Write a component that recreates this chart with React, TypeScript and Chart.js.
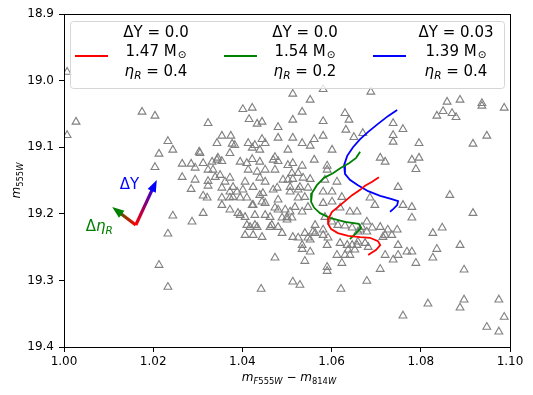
import React, { useEffect, useRef } from 'react';
import { Chart, registerables } from 'chart.js';

Chart.register(...registerables);

// ---- observed stars (colour index, magnitude) ----
const starColor = [
  1.0007, 1.0007, 1.0027, 1.0175, 1.0204, 1.0323, 1.0233, 1.0244, 1.0213, 1.0204,
  1.0303, 1.0354, 1.0374, 1.0401, 1.0422, 1.0415, 1.0433, 1.0444, 1.0480, 1.0513,
  1.0513, 1.0480, 1.0513, 1.0343, 1.0377, 1.0413, 1.0444, 1.0451, 1.0383, 1.0428,
  1.0422, 1.0439, 1.0305, 1.0372, 1.0345, 1.0473, 1.0502, 1.0265, 1.0285, 1.0294,
  1.0312, 1.0332, 1.0265, 1.0294, 1.0323, 1.0334, 1.0354, 1.0350, 1.0395, 1.0422,
  1.0439, 1.0469, 1.0480, 1.0513, 1.0285, 1.0312, 1.0321, 1.0354, 1.0354, 1.0372,
  1.0244, 1.0287, 1.0312, 1.0379, 1.0401, 1.0424, 1.0446, 1.0469, 1.0480, 1.0507,
  1.0395, 1.0406, 1.0424, 1.0444, 1.0462, 1.0480, 1.0500, 1.0233, 1.0406, 1.0424,
  1.0444, 1.0417, 1.0433, 1.0462, 1.0489, 1.0513, 1.0213, 1.0233, 1.0442, 1.0473,
  1.0513, 1.0529, 1.0323, 1.0343, 1.0339, 1.0323, 1.0361, 1.0372, 1.0379, 1.0372,
  1.0372, 1.0388, 1.0395, 1.0410, 1.0406, 1.0410, 1.0413, 1.0433, 1.0451, 1.0439,
  1.0451, 1.0473, 1.0491, 1.0478, 1.0439, 1.0422, 1.0428, 1.0451, 1.0451, 1.0473,
  1.0489, 1.0496, 1.0354, 1.0390, 1.0410, 1.0428, 1.0466, 1.0480, 1.0500, 1.0552,
  1.0581, 1.0688, 1.0534, 1.0581, 1.0630, 1.0639, 1.0632, 1.0670, 1.0650, 1.0534,
  1.0552, 1.0561, 1.0581, 1.0601, 1.0561, 1.0534, 1.0590, 1.0590, 1.0502, 1.0511,
  1.0525, 1.0502, 1.0513, 1.0536, 1.0552, 1.0612, 1.0709, 1.0720, 1.0738, 1.0738,
  1.0738, 1.0760, 1.0507, 1.0529, 1.0547, 1.0796, 1.0859, 1.0888, 1.0937, 1.0937,
  1.0987, 1.0850, 1.0870, 1.0836, 1.0879, 1.0948, 1.0917, 1.0780, 1.0796, 1.0789,
  1.0585, 1.0601, 1.0623, 1.0686, 1.0697, 1.0749, 1.0760, 1.0780, 1.0780, 1.0865,
  1.0917, 1.0679, 1.0709, 1.0726, 1.0747, 1.0827, 1.0848, 1.0641, 1.0657, 1.0664,
  1.0679, 1.0534, 1.0552, 1.0558, 1.0581, 1.0590, 1.0534, 1.0552, 1.0540, 1.0590,
  1.0590, 1.0623, 1.0612, 1.0637, 1.0657, 1.0682, 1.0659, 1.0709, 1.0679, 1.0720,
  1.0738, 1.0749, 1.0769, 1.0780, 1.0789, 1.0749, 1.0715, 1.0621, 1.0760, 1.0816,
  1.0888, 1.0897, 1.0827, 1.0836, 1.0888, 1.0897, 1.0948, 1.0975, 1.0987, 1.0975,
  1.0525, 1.0581, 1.0540, 1.0525, 1.0518, 1.0507, 1.0534, 1.0511, 1.0547, 1.0581,
  1.0601, 1.0619, 1.0585, 1.0601, 1.0614, 1.0630, 1.0646, 1.0668, 1.0691, 1.0563,
  1.0563, 1.0540, 1.0525, 1.0547, 1.0581, 1.0592, 1.0619, 1.0635, 1.0646, 1.0659,
  1.0675, 1.0652, 1.0641, 1.0630, 1.0720, 1.0735,
];
const starMag = [
  18.987, 19.082, 19.062, 19.047, 19.053, 19.064, 19.091, 19.104, 19.110, 19.130,
  19.107, 19.083, 19.083, 19.043, 19.041, 19.058, 19.065, 19.062, 19.070, 19.020,
  19.059, 19.086, 19.086, 19.094, 19.095, 19.094, 19.088, 19.094, 19.097, 19.097,
  19.101, 19.104, 19.109, 19.109, 19.116, 19.115, 19.104, 19.125, 19.125, 19.131,
  19.124, 19.122, 19.145, 19.149, 19.151, 19.134, 19.121, 19.142, 19.122, 19.118,
  19.122, 19.119, 19.121, 19.124, 19.163, 19.173, 19.176, 19.161, 19.187, 19.194,
  19.203, 19.212, 19.199, 19.175, 19.164, 19.160, 19.169, 19.164, 19.179, 19.167,
  19.202, 19.205, 19.187, 19.182, 19.205, 19.194, 19.205, 19.230, 19.232, 19.232,
  19.235, 19.220, 19.220, 19.220, 19.229, 19.235, 19.277, 19.310, 19.313, 19.266,
  19.302, 19.307, 19.134, 19.119, 19.145, 19.158, 19.152, 19.146, 19.160, 19.167,
  19.176, 19.167, 19.176, 19.176, 19.152, 19.124, 19.134, 19.137, 19.134, 19.146,
  19.152, 19.134, 19.149, 19.161, 19.172, 19.187, 19.202, 19.184, 19.202, 19.191,
  19.206, 19.194, 19.176, 19.199, 19.217, 19.217, 19.217, 19.220, 19.209, 19.029,
  19.013, 19.017, 19.047, 19.061, 19.049, 19.059, 19.074, 19.079, 19.085, 19.094,
  19.098, 19.088, 19.083, 19.104, 19.119, 19.128, 19.128, 19.134, 19.127, 19.139,
  19.139, 19.149, 19.148, 19.146, 19.148, 19.152, 19.116, 19.122, 19.064, 19.082,
  19.092, 19.073, 19.160, 19.160, 19.161, 19.094, 19.032, 19.029, 19.034, 19.038,
  19.041, 19.046, 19.049, 19.053, 19.055, 19.083, 19.095, 19.119, 19.116, 19.133,
  19.149, 19.167, 19.175, 19.176, 19.187, 19.160, 19.187, 19.190, 19.206, 19.172,
  19.199, 19.212, 19.220, 19.224, 19.224, 19.229, 19.221, 19.197, 19.197, 19.224,
  19.227, 19.247, 19.239, 19.227, 19.224, 19.247, 19.253, 19.257, 19.271, 19.280,
  19.286, 19.274, 19.262, 19.254, 19.247, 19.250, 19.227, 19.283, 19.301, 19.262,
  19.269, 19.262, 19.257, 19.257, 19.274, 19.247, 19.235, 19.313, 19.353, 19.335,
  19.341, 19.329, 19.266, 19.253, 19.247, 19.284, 19.370, 19.329, 19.355, 19.377,
  19.164, 19.167, 19.175, 19.176, 19.190, 19.197, 19.197, 19.206, 19.190, 19.184,
  19.182, 19.191, 19.205, 19.212, 19.217, 19.218, 19.221, 19.220, 19.221, 19.217,
  19.229, 19.229, 19.236, 19.236, 19.232, 19.236, 19.244, 19.247, 19.247, 19.242,
  19.244, 19.254, 19.262, 19.262, 19.232, 19.232,
];

// ---- model tracks ----
const redColor = [1.0706, 1.0691, 1.0675, 1.0664, 1.0646, 1.0630, 1.0614, 1.0601, 1.0594, 1.0592, 1.0599, 1.0614, 1.0637, 1.0664, 1.0686, 1.0704, 1.0709, 1.0700, 1.0682];
const redMag = [19.145, 19.152, 19.158, 19.164, 19.172, 19.181, 19.190, 19.197, 19.206, 19.215, 19.223, 19.229, 19.233, 19.235, 19.236, 19.241, 19.247, 19.254, 19.262];
const greenColor = [1.0664, 1.0655, 1.0639, 1.0621, 1.0603, 1.0583, 1.0567, 1.0556, 1.0554, 1.0561, 1.0574, 1.0596, 1.0630, 1.0661, 1.0666, 1.0655, 1.0641];
const greenMag = [19.107, 19.116, 19.124, 19.131, 19.139, 19.146, 19.157, 19.169, 19.182, 19.191, 19.199, 19.206, 19.212, 19.215, 19.221, 19.229, 19.238];
const blueColor = [1.0747, 1.0727, 1.0704, 1.0682, 1.0664, 1.0648, 1.0635, 1.0628, 1.0630, 1.0641, 1.0659, 1.0682, 1.0709, 1.0735, 1.0749, 1.0747, 1.0738, 1.0731];
const blueMag = [19.044, 19.053, 19.065, 19.077, 19.088, 19.100, 19.113, 19.127, 19.140, 19.149, 19.157, 19.166, 19.173, 19.178, 19.181, 19.187, 19.193, 19.197];

const trackDY = ['0.0', '0.0', '0.03'];
const trackMass = ['1.47', '1.54', '1.39'];
const trackEta = ['0.4', '0.2', '0.4'];
const trackColors = ['#ff0000', '#008000', '#0000ff'];

// ---- axes ----
const xTicks = [1.0, 1.02, 1.04, 1.06, 1.08, 1.1];
const yTicks = [18.9, 19.0, 19.1, 19.2, 19.3, 19.4];

// ---- direction arrows (data coords) ----
const arrowOrigin = [1.0161, 19.2168];
const arrowDYTip = [1.0208, 19.1492];
const arrowEtaTip = [1.0108, 19.1898];

const FONT = 'DejaVu Sans';

type Seg = { t: string; f: string; dy?: number; gap?: number };

function drawSegs(ctx: CanvasRenderingContext2D, segs: Seg[], x: number, y: number, align: 'center' | 'left') {
  let total = 0;
  for (const s of segs) {
    ctx.font = s.f;
    total += ctx.measureText(s.t).width + (s.gap || 0);
  }
  let cx = align === 'center' ? x - total / 2 : x;
  for (const s of segs) {
    ctx.font = s.f;
    cx += s.gap || 0;
    ctx.fillText(s.t, cx, y + (s.dy || 0));
    cx += ctx.measureText(s.t).width;
  }
}

function drawArrow(ctx: CanvasRenderingContext2D, x0: number, y0: number, x1: number, y1: number, c0: string, c1: string) {
  const dx = x1 - x0, dy = y1 - y0;
  const L = Math.hypot(dx, dy);
  const ux = dx / L, uy = dy / L;
  const headLen = 12, headW = 9;
  const bx = x1 - ux * headLen, by = y1 - uy * headLen;
  const g = ctx.createLinearGradient(x0, y0, x1, y1);
  g.addColorStop(0, c0);
  g.addColorStop(1, c1);
  ctx.save();
  ctx.strokeStyle = g;
  ctx.lineWidth = 3.2;
  ctx.lineCap = 'butt';
  ctx.beginPath();
  ctx.moveTo(x0, y0);
  ctx.lineTo(bx + ux * 1, by + uy * 1);
  ctx.stroke();
  const px = -uy, py = ux;
  ctx.fillStyle = c1;
  ctx.beginPath();
  ctx.moveTo(x1, y1);
  ctx.lineTo(bx + (px * headW) / 2, by + (py * headW) / 2);
  ctx.lineTo(bx - (px * headW) / 2, by - (py * headW) / 2);
  ctx.closePath();
  ctx.fill();
  ctx.restore();
}

const overlayPlugin = {
  id: 'overlay',
  afterDatasetsDraw(chart: any) {
    const ctx: CanvasRenderingContext2D = chart.ctx;
    const xs = chart.scales.x, ys = chart.scales.y;
    // arrows
    const ox = xs.getPixelForValue(arrowOrigin[0]), oy = ys.getPixelForValue(arrowOrigin[1]);
    drawArrow(ctx, ox, oy, xs.getPixelForValue(arrowEtaTip[0]), ys.getPixelForValue(arrowEtaTip[1]), '#ff0000', '#008000');
    drawArrow(ctx, ox, oy, xs.getPixelForValue(arrowDYTip[0]), ys.getPixelForValue(arrowDYTip[1]), '#ff0000', '#0000ff');
    ctx.save();
    ctx.textBaseline = 'alphabetic';
    ctx.fillStyle = '#0000ff';
    drawSegs(ctx, [{ t: 'ΔY', f: `15px ${FONT}` }], ox - 16, oy - 36, 'left');
    ctx.fillStyle = '#008000';
    drawSegs(ctx, [
      { t: 'Δ', f: `15px ${FONT}` },
      { t: 'η', f: `italic 15px ${FONT}` },
      { t: 'R', f: `italic 10.5px ${FONT}`, dy: 3 },
    ], ox - 50, oy + 6, 'left');
    ctx.restore();

    // legend
    const ca = chart.chartArea;
    const lx = ca.left + 6.5, ly = 21.5, lw = 434, lh = 67;
    ctx.save();
    ctx.beginPath();
    (ctx as any).roundRect(lx, ly, lw, lh, 3);
    ctx.fillStyle = 'rgba(255,255,255,0.8)';
    ctx.fill();
    ctx.strokeStyle = '#d6d6d6';
    ctx.lineWidth = 1;
    ctx.stroke();
    ctx.textBaseline = 'alphabetic';
    for (let i = 0; i < 3; i++) {
      const sx = lx + 4.5 + i * 149;
      ctx.strokeStyle = trackColors[i];
      ctx.lineWidth = 1.8;
      ctx.beginPath();
      ctx.moveTo(sx, 56);
      ctx.lineTo(sx + 33, 56);
      ctx.stroke();
      const tx = sx + 81 + (i === 2 ? 2 : 0);
      ctx.fillStyle = '#000';
      drawSegs(ctx, [{ t: `ΔY = ${trackDY[i]}`, f: `15px ${FONT}` }], tx, 37, 'center');
      drawSegs(ctx, [
        { t: `${trackMass[i]} M`, f: `15px ${FONT}` },
        { t: '⊙', f: `10.5px ${FONT}`, dy: 1.5, gap: 1 },
      ], tx, 56, 'center');
      drawSegs(ctx, [
        { t: 'η', f: `italic 15px ${FONT}` },
        { t: 'R', f: `italic 10.5px ${FONT}`, dy: 3 },
        { t: ` = ${trackEta[i]}`, f: `15px ${FONT}` },
      ], tx, 76, 'center');
    }
    ctx.restore();
  },
  afterDraw(chart: any) {
    const ctx: CanvasRenderingContext2D = chart.ctx;
    const ca = chart.chartArea;
    ctx.save();
    ctx.strokeStyle = '#000';
    ctx.lineWidth = 1;
    ctx.strokeRect(Math.round(ca.left) + 0.5, Math.round(ca.top) + 0.5, Math.round(ca.right - ca.left), Math.round(ca.bottom - ca.top));
    ctx.fillStyle = '#000';
    ctx.textBaseline = 'alphabetic';
    const it12 = `italic 12px ${FONT}`, n12 = `12px ${FONT}`;
    const s8 = `8.4px ${FONT}`, si8 = `italic 8.4px ${FONT}`;
    drawSegs(ctx, [
      { t: 'm', f: it12 },
      { t: 'F', f: si8, dy: 2.5 },
      { t: '555', f: s8, dy: 2.5 },
      { t: 'W', f: si8, dy: 2.5 },
      { t: ' − ', f: n12 },
      { t: 'm', f: it12 },
      { t: '814', f: s8, dy: 2.5 },
      { t: 'W', f: si8, dy: 2.5 },
    ], (ca.left + ca.right) / 2 + 2, 381, 'center');
    ctx.translate(20, (ca.top + ca.bottom) / 2);
    ctx.rotate(-Math.PI / 2);
    drawSegs(ctx, [
      { t: 'm', f: it12 },
      { t: '555', f: s8, dy: 2.5 },
      { t: 'W', f: si8, dy: 2.5 },
    ], 0, 0, 'center');
    ctx.restore();
  },
};

export default function App() {
  const ref = useRef<HTMLCanvasElement>(null);
  useEffect(() => {
    const lineDs = (xsArr: number[], ysArr: number[], color: string, label: string) => ({
      label,
      data: xsArr.map((x, i) => ({ x, y: ysArr[i] })),
      showLine: true,
      pointRadius: 0,
      borderColor: color,
      backgroundColor: color,
      borderWidth: 1.8,
      tension: 0,
    });
    const chart = new Chart(ref.current as HTMLCanvasElement, {
      type: 'scatter',
      data: {
        datasets: [
          lineDs(redColor, redMag, trackColors[0], 'red'),
          lineDs(greenColor, greenMag, trackColors[1], 'green'),
          lineDs(blueColor, blueMag, trackColors[2], 'blue'),
          {
            label: 'stars',
            data: starColor.map((x, i) => ({ x, y: starMag[i] })),
            pointStyle: 'triangle',
            pointRadius: 4.5,
            borderColor: '#808080',
            backgroundColor: 'rgba(0,0,0,0)',
            borderWidth: 1.1,
          } as any,
        ],
      },
      options: {
        responsive: false,
        animation: false,
        devicePixelRatio: 1,
        events: [],
        layout: { padding: { top: 14, right: 23, left: 0, bottom: 0 } },
        plugins: { legend: { display: false }, tooltip: { enabled: false } },
        scales: {
          x: {
            type: 'linear',
            min: 1.0,
            max: 1.1,
            afterBuildTicks: (s: any) => { s.ticks = xTicks.map((v) => ({ value: v })); },
            afterFit: (s: any) => { s.height = 48; },
            grid: { display: true, drawOnChartArea: false, drawTicks: true, tickLength: 5, tickColor: '#000', tickWidth: 1 },
            border: { display: false },
            ticks: {
              autoSkip: false,
              maxRotation: 0,
              padding: 3,
              color: '#000',
              font: { family: FONT, size: 12 },
              callback: (v: any) => Number(v).toFixed(2),
            },
          },
          y: {
            type: 'linear',
            reverse: true,
            min: 18.9,
            max: 19.4,
            afterBuildTicks: (s: any) => { s.ticks = yTicks.map((v) => ({ value: v })); },
            afterFit: (s: any) => { s.width = 64; },
            grid: { display: true, drawOnChartArea: false, drawTicks: true, tickLength: 5, tickColor: '#000', tickWidth: 1 },
            border: { display: false },
            ticks: {
              autoSkip: false,
              padding: 5,
              color: '#000',
              font: { family: FONT, size: 12 },
              callback: (v: any) => Number(v).toFixed(1),
            },
          },
        },
      } as any,
      plugins: [overlayPlugin],
    });
    return () => chart.destroy();
  }, []);
  return (
    <div style={{ position: 'fixed', left: 0, top: 0, width: 533, height: 395, background: '#fff' }}>
      <canvas ref={ref} width={533} height={395} style={{ width: 533, height: 395, display: 'block' }} />
    </div>
  );
}
